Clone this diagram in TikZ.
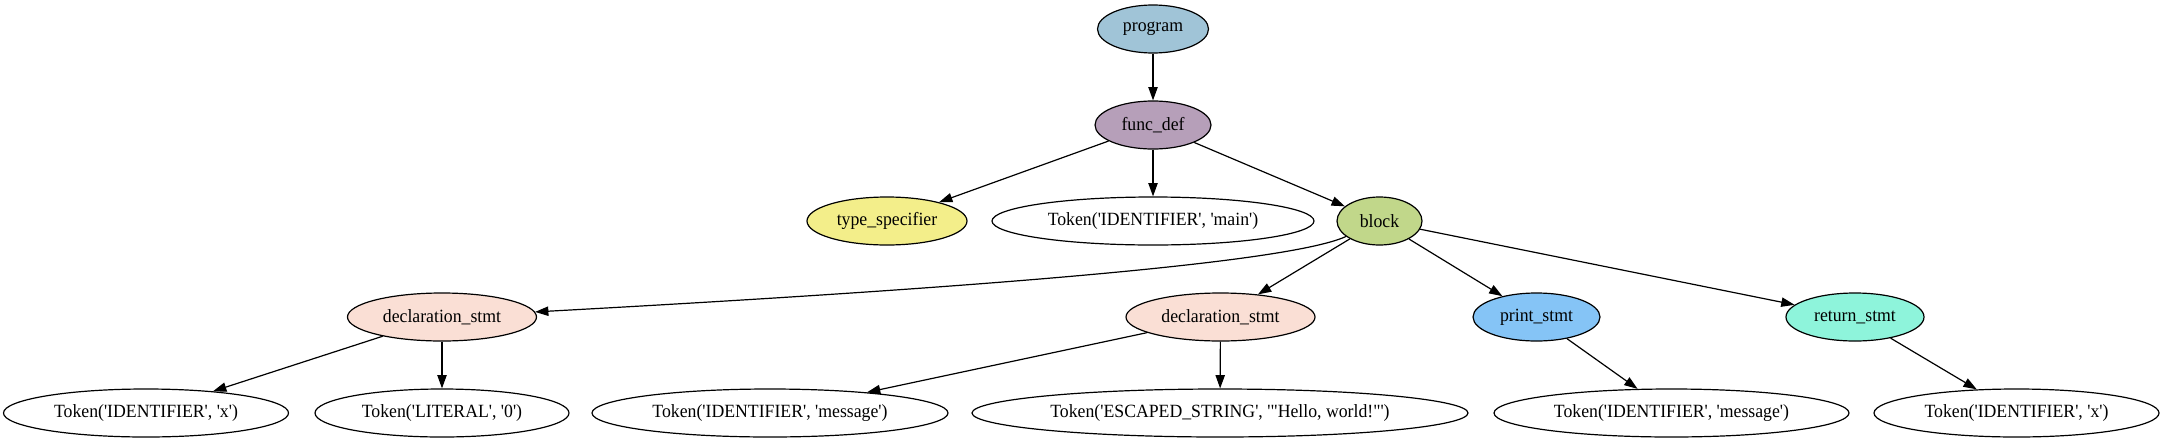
\documentclass[tikz,border=0pt]{standalone}
\usepackage{fontspec}
\setmainfont{Liberation Serif}[Ligatures=TeXOff, FakeStretch=0.95]
\usetikzlibrary{shapes.geometric,arrows.meta}
\definecolor{cprogram}{HTML}{A0C4D7}
\definecolor{cfunc}{HTML}{B69FB9}
\definecolor{ctype}{HTML}{F3EE8A}
\definecolor{cblock}{HTML}{C1D78A}
\definecolor{cdecl}{HTML}{FADFD5}
\definecolor{cprint}{HTML}{85C4F6}
\definecolor{creturn}{HTML}{8EF4DB}
\tikzset{
  nd/.style={ellipse, draw=black, line width=0.9pt, minimum height=36pt, inner sep=0pt,
    font=\fontsize{14pt}{16pt}\selectfont, text=black},
  arr/.style={draw=black, line width=0.9pt, -{Triangle[length=10pt,width=7pt]}}
}
\begin{document}
\begin{tikzpicture}[x=0.75pt,y=-0.75pt]
\useasboundingbox (0,0) rectangle (2165,443);
% row 0
\node[nd, fill=cprogram, minimum width=83.25pt] (program) at (1153,29) {program};
% row 1
\node[nd, fill=cfunc, minimum width=87pt] (funcdef) at (1153,125) {func\_def};
% row 2
\node[nd, fill=ctype, minimum width=120pt] (typespec) at (887,221) {type\_specifier};
\node[nd, minimum width=241.5pt] (tokmain) at (1153,221) {Token('IDENTIFIER', 'main')};
\node[nd, fill=cblock, minimum width=63.75pt] (block) at (1379.5,221) {block};
% row 3
\node[nd, fill=cdecl, minimum width=141.75pt] (decla) at (442,317) {declaration\_stmt};
\node[nd, fill=cdecl, minimum width=141.75pt] (declb) at (1220.5,317) {declaration\_stmt};
\node[nd, fill=cprint, minimum width=95.25pt] (print) at (1536.5,317) {print\_stmt};
\node[nd, fill=creturn, minimum width=103.5pt] (return) at (1855,317) {return\_stmt};
% row 4
\node[nd, minimum width=213.75pt] (tokxa) at (146,413) {Token('IDENTIFIER', 'x')};
\node[nd, minimum width=190.5pt] (toklit) at (442,413) {Token('LITERAL', '0')};
\node[nd, minimum width=267pt] (tokmsga) at (770,413) {Token('IDENTIFIER', 'message')};
\node[nd, minimum width=372pt] (tokesc) at (1220,413) {Token('ESCAPED\_STRING', '"Hello, world!"')};
\node[nd, minimum width=266.25pt] (tokmsgb) at (1671.5,413) {Token('IDENTIFIER', 'message')};
\node[nd, minimum width=213.75pt] (tokxb) at (2016.5,413) {Token('IDENTIFIER', 'x')};
% edges
\draw[arr] (program) -- (funcdef);
\draw[arr] (funcdef) -- (typespec);
\draw[arr] (funcdef) -- (tokmain);
\draw[arr] (funcdef) -- (block);
\draw[arr] (block) .. controls (1282,266) and (900,292) .. (decla);
\draw[arr] (block) -- (declb);
\draw[arr] (block) -- (print);
\draw[arr] (block) -- (return);
\draw[arr] (decla) -- (tokxa);
\draw[arr] (decla) -- (toklit);
\draw[arr] (declb) -- (tokmsga);
\draw[arr] (declb) -- (tokesc);
\draw[arr] (print) -- (tokmsgb);
\draw[arr] (return) -- (tokxb);
\end{tikzpicture}
\end{document}
